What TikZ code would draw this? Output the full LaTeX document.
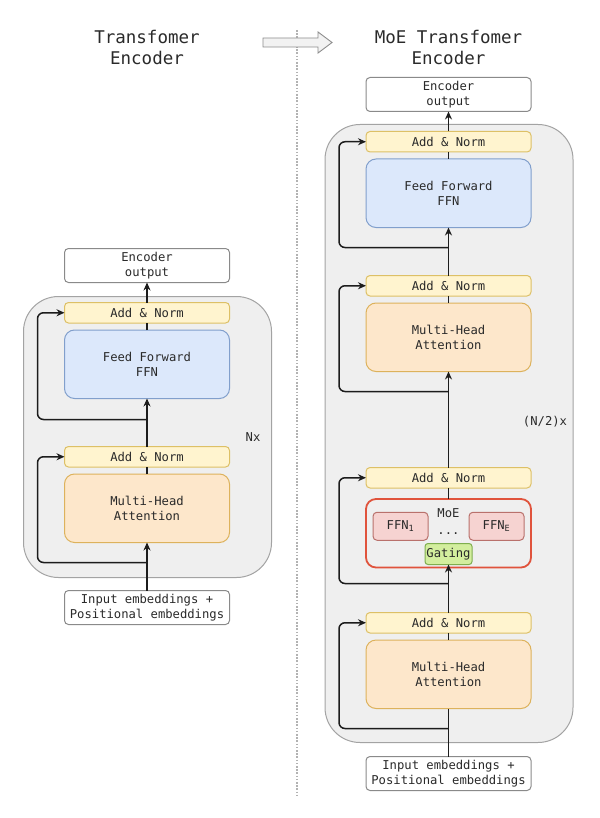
\documentclass[tikz,border=0pt]{standalone}
\usepackage{fontspec}
\setmainfont{DejaVu Sans Mono}
\usetikzlibrary{positioning,arrows.meta,backgrounds}
\definecolor{textclr}{HTML}{2A2A2A}
\definecolor{lineclr}{HTML}{1C1C1C}
\definecolor{ioclr}{HTML}{8A8A8A}
\definecolor{normfill}{HTML}{FFF4CF}
\definecolor{normdraw}{HTML}{DDC066}
\definecolor{ffnfill}{HTML}{DCE8FB}
\definecolor{ffndraw}{HTML}{819FCC}
\definecolor{mhafill}{HTML}{FDE7CB}
\definecolor{mhadraw}{HTML}{DDB25C}
\definecolor{moedraw}{HTML}{E0533C}
\definecolor{expfill}{HTML}{F6D3D1}
\definecolor{expdraw}{HTML}{B9716C}
\definecolor{gatefill}{HTML}{D3EE9E}
\definecolor{gatedraw}{HTML}{7FAE4E}
\definecolor{stackfill}{HTML}{EFEFEF}
\definecolor{stackdraw}{HTML}{A3A3A3}

\begin{document}
\begin{tikzpicture}[
    x=1pt, y=-1pt,
    node distance=7pt,
    box/.style={rectangle, rounded corners=4pt, draw, line width=1pt, minimum width=165pt,
                inner sep=0pt, outer sep=0pt, align=center, text=textclr,
                font=\fontsize{12.2}{14.5}\selectfont},
    io/.style={box, draw=ioclr, fill=white, minimum height=34pt},
    norm/.style={box, fill=normfill, draw=normdraw, minimum height=20.5pt},
    ffn/.style={box, rounded corners=10pt, fill=ffnfill, draw=ffndraw, minimum height=68.5pt},
    mha/.style={box, rounded corners=10pt, fill=mhafill, draw=mhadraw, minimum height=68.5pt},
    moebox/.style={box, rounded corners=10pt, draw=moedraw, line width=1.8pt, minimum height=68.5pt},
    expert/.style={box, minimum width=55pt, minimum height=28pt, fill=expfill, draw=expdraw},
    gate/.style={box, rounded corners=3pt, minimum width=47pt, minimum height=21pt,
                 fill=gatefill, draw=gatedraw},
    stack/.style={rounded corners=35pt, fill=stackfill, draw=stackdraw, line width=1pt},
    arr/.style={-{Stealth[length=8pt,width=7pt]}, line width=1.5pt, draw=lineclr},
    lin/.style={line width=1.5pt, draw=lineclr},
    res/.style={arr, rounded corners=6pt},
    headtext/.style={align=center, text=textclr, font=\fontsize{17.5}{21}\selectfont},
    reptext/.style={text=textclr, font=\fontsize{12.2}{14.5}\selectfont}
  ]
    \useasboundingbox (0,0) rectangle (599,818);

    % titles, separator and the arrow between them
    \node[headtext] (headA) at (147,47.5) {Transfomer\\Encoder};
    \node[headtext] (headB) at (448.5,47.5) {MoE Transfomer\\Encoder};
    \draw[draw=gray!60, line width=1.2pt, dash pattern=on 1.6pt off 1.6pt] (297,30) -- (297,797);
    \draw[fill=gray!10, draw=gray!90, line width=0.9pt] (263,38) -- (318,38) -- (318,32) -- (332,42.5)
      -- (318,53) -- (318,47) -- (263,47) -- cycle;

    % plain encoder
    \node[io] (outA) at (147,265.5) {Encoder\\output};
    \node[norm, below=20pt of outA] (addA1) {Add \& Norm};
    \node[ffn, below=of addA1] (ffnA) {Feed Forward\\FFN};
    \node[norm, below=48pt of ffnA] (addA2) {Add \& Norm};
    \node[mha, below=of addA2] (mhaA) {Multi-Head\\Attention};
    \node[io, below=48pt of mhaA] (inA) {Input embeddings +\\Positional embeddings};
    \node[reptext] (nxA) at (253,437) {Nx};

    % MoE encoder
    \node[io] (outB) at (448.5,94.5) {Encoder\\output};
    \node[norm, below=20pt of outB] (addB1) {Add \& Norm};
    \node[ffn, below=of addB1] (ffnB) {Feed Forward\\FFN};
    \node[norm, below=48pt of ffnB] (addB2) {Add \& Norm};
    \node[mha, below=of addB2] (mhaB) {Multi-Head\\Attention};
    \node[norm, below=96pt of mhaB] (addB3) {Add \& Norm};
    \node[moebox, below=11pt of addB3] (moe) {};
    \node[norm, below=45pt of moe] (addB4) {Add \& Norm};
    \node[mha, below=of addB4] (mhaC) {Multi-Head\\Attention};
    \node[io, below=48pt of mhaC] (inB) {Input embeddings +\\Positional embeddings};
    \node[reptext] (nxB) at (545,422) {(N/2)x};

    \node[reptext] (moelbl) at ([yshift=-14pt]moe.north) {MoE};
    \node[expert, anchor=west] (exp1) at ([xshift=7pt,yshift=7pt]moe.west) {FFN\textsubscript{1}};
    \node[expert, anchor=east] (expE) at ([xshift=-7pt,yshift=7pt]moe.east) {FFN\textsubscript{E}};
    \node[reptext, inner sep=0pt] (dots) at (moe.center) {...};
    \node[gate, anchor=south] (gate) at ([yshift=3pt]moe.south) {Gating};

    \begin{scope}[on background layer]
      \draw[stack] ([shift={(-41pt,6pt)}]addA1.north west) rectangle ([shift={(42pt,-35pt)}]mhaA.south east);
      \draw[stack] ([shift={(-41pt,7pt)}]addB1.north west) rectangle ([shift={(42pt,-34pt)}]mhaC.south east);
    \end{scope}

    % main path
    \draw[arr] (inA) -- (mhaA);
    \draw[lin] (mhaA) -- (addA2);
    \draw[arr] (addA2) -- (ffnA);
    \draw[lin] (ffnA) -- (addA1);
    \draw[arr] (addA1) -- (outA);

    \draw[lin] (inB) -- (mhaC);
    \draw[lin] (mhaC) -- (addB4);
    \draw[arr] (addB4) -- (gate);
    \draw[lin] (moe) -- (addB3);
    \draw[arr] (addB3) -- (mhaB);
    \draw[lin] (mhaB) -- (addB2);
    \draw[arr] (addB2) -- (ffnB);
    \draw[lin] (ffnB) -- (addB1);
    \draw[arr] (addB1) -- (outB);

    % residual connections
    \coordinate (skipA1) at ([yshift=-20pt]mhaA.south);
    \coordinate (skipA2) at ([yshift=-21pt]ffnA.south);
    \draw[res] (skipA1) -| ([xshift=-27pt]addA2.west) -- (addA2.west);
    \draw[res] (skipA2) -| ([xshift=-27pt]addA1.west) -- (addA1.west);

    \coordinate (skipB1) at ([yshift=-20pt]mhaC.south);
    \coordinate (skipB2) at ([yshift=-16pt]moe.south);
    \coordinate (skipB3) at ([yshift=-20pt]mhaB.south);
    \coordinate (skipB4) at ([yshift=-20pt]ffnB.south);
    \draw[res] (skipB1) -| ([xshift=-27pt]addB4.west) -- (addB4.west);
    \draw[res] (skipB2) -| ([xshift=-27pt]addB3.west) -- (addB3.west);
    \draw[res] (skipB3) -| ([xshift=-27pt]addB2.west) -- (addB2.west);
    \draw[res] (skipB4) -| ([xshift=-27pt]addB1.west) -- (addB1.west);
  \end{tikzpicture}
\end{document}
